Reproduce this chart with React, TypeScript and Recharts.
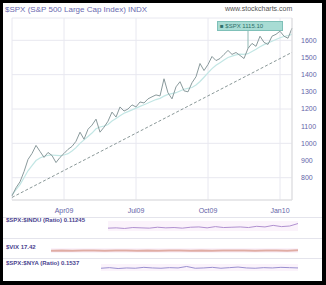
import { CartesianGrid, ComposedChart, Line, LineChart, ReferenceLine, XAxis, YAxis } from "recharts";

const TITLE = "$SPX (S&P 500 Large Cap Index) INDX";
const SITE = "www.stockcharts.com";
const LEGEND = "■ $SPX 1115.10";

// daily-ish closes, left to right
const PRICE = [
  694, 741, 776, 835, 906, 941, 988, 953, 918, 947, 929, 888, 918, 941, 965, 982, 1012, 1065,
  1024, 1082, 1106, 1141, 1065, 1094, 1129, 1182, 1153, 1212, 1188, 1200, 1224, 1212, 1241,
  1235, 1259, 1271, 1282, 1276, 1376, 1294, 1259, 1329, 1359, 1306, 1300, 1353, 1388, 1465,
  1424, 1459, 1506, 1482, 1494, 1518, 1541, 1518, 1529, 1512, 1494, 1553, 1582, 1565, 1624,
  1588, 1576, 1624, 1635, 1653, 1624, 1612, 1671,
];
const MA = [
  700, 730, 760, 800, 840, 870, 900, 915, 925, 930, 932, 930, 928, 932, 940, 955, 975, 1000,
  1020, 1040, 1060, 1085, 1095, 1100, 1110, 1130, 1145, 1160, 1175, 1185, 1195, 1205, 1215,
  1225, 1235, 1245, 1255, 1262, 1275, 1285, 1290, 1295, 1305, 1315, 1320, 1325, 1340, 1360,
  1385, 1410, 1435, 1455, 1470, 1485, 1500, 1508, 1515, 1520, 1518, 1522, 1535, 1548, 1562,
  1575, 1585, 1595, 1605, 1615, 1622, 1628, 1635,
];
const TREND_FROM = { i: 0, v: 685 };
const TREND_TO = { i: 70, v: 1530 };

const Y_TICKS = [800, 900, 1000, 1100, 1200, 1300, 1400, 1500, 1600];
const X_TICKS = [13, 31, 49, 67];
const X_LABELS = ["Apr09", "Jul09", "Oct09", "Jan10"];

const RATIO_LABEL = "$SPX:$INDU (Ratio) 0.11245";
const RATIO = [10.9, 11.0, 10.8, 11.1, 11.0, 10.9, 11.2, 11.0, 11.1, 10.9, 11.2, 11.3, 11.0, 11.4, 11.1, 11.2, 11.3, 11.1, 11.5, 11.3, 11.8, 11.4, 11.6, 12.4];
const VIX_LABEL = "$VIX 17.42";
const VIX = [20, 20.1, 20, 20.2, 20.1, 20, 20.1, 20.2, 20, 20.1, 20, 20.1, 20.2, 20, 20.1, 20, 20.1, 20.2, 20.1, 20, 20.1, 20.2, 20, 20.3];
const BREADTH_LABEL = "$SPX:$NYA (Ratio) 0.1537";
const BREADTH = [5.0, 5.2, 4.9, 5.1, 5.0, 5.3, 5.1, 5.0, 5.2, 5.1, 5.6, 5.0, 5.1, 5.3, 5.0, 5.2, 5.4, 5.1, 5.0, 5.2, 5.1, 5.3, 5.2, 5.1];

const main = PRICE.map((v, i) => ({ i, price: v, ma: MA[i] }));
const strip = (arr: number[]) => arr.map((v, i) => ({ i, v }));

const FONT = "'Liberation Sans', Arial, sans-serif";
const AXIS = { fill: "#6464a8", fontSize: 7, fontFamily: FONT };

function Strip({ top, left, label, data, color, width, height, thick = 1 }: { top: number; left: number; label: string; data: { i: number; v: number }[]; color: string; width: number; height: number; thick?: number }) {
  return (
    <>
      <div style={{ position: "absolute", top: top - 4, left: 3, fontSize: 6, fontWeight: "bold", color: "#4a3f8f", fontFamily: FONT, whiteSpace: "nowrap" }}>
        {label}
      </div>
      <div style={{ position: "absolute", top, left, background: "#fbf3fb" }}>
        <LineChart width={width} height={height} data={data} margin={{ top: 1, right: 0, left: 0, bottom: 1 }}>
          <YAxis hide domain={["dataMin - 0.5", "dataMax + 0.5"]} />
          <XAxis dataKey="i" hide />
          <Line dataKey="v" stroke={color} strokeWidth={thick} dot={false} isAnimationActive={false} />
        </LineChart>
      </div>
    </>
  );
}

export default function App() {
  return (
    <div style={{ position: "absolute", left: 0, top: 0, width: 326, height: 285, background: "#000" }}>
      <div style={{ position: "absolute", left: 3, top: 3, width: 319, height: 278, background: "#fff", overflow: "hidden" }}>
        <div style={{ position: "absolute", left: 2, top: 2, fontSize: 8, color: "#6a6ab0", fontFamily: FONT, whiteSpace: "nowrap" }}>{TITLE}</div>
        <div style={{ position: "absolute", left: 222, top: 2, fontSize: 7, color: "#555", fontFamily: FONT, whiteSpace: "nowrap" }}>{SITE}</div>
        <div style={{ position: "absolute", left: -3, top: -3 }}>
          <ComposedChart width={326} height={215} data={main} margin={{ top: 18, right: 0, left: 12, bottom: 0 }}>
            <CartesianGrid stroke="#e8e8f0" />
            <XAxis dataKey="i" type="number" domain={[0, 70]} ticks={X_TICKS} tickFormatter={(v) => X_LABELS[X_TICKS.indexOf(v)]} tick={AXIS} tickLine={false} axisLine={{ stroke: "#ddd" }} height={15} tickMargin={2} />
            <YAxis orientation="right" domain={[670, 1730]} ticks={Y_TICKS} tick={AXIS} tickLine={false} axisLine={{ stroke: "#ddd" }} width={34} tickMargin={3} />
            <ReferenceLine segment={[{ x: TREND_FROM.i, y: TREND_FROM.v }, { x: TREND_TO.i, y: TREND_TO.v }]} stroke="#8a9898" strokeDasharray="3 2" />
            <ReferenceLine segment={[{ x: 59, y: 1553 }, { x: 59, y: 1705 }]} stroke="#8fb8b4" />
            <Line dataKey="ma" stroke="#c2e6e4" strokeWidth={1.2} dot={false} isAnimationActive={false} />
            <Line dataKey="price" type="linear" stroke="#8a9a9c" strokeWidth={1} dot={false} isAnimationActive={false} />
          </ComposedChart>
        </div>
        <div style={{ position: "absolute", left: 214, top: 18, width: 62, height: 8, background: "#a8dcd4", border: "1px solid #7fc0b8", fontSize: 6, lineHeight: "8px", color: "#2f6f6a", fontFamily: FONT, whiteSpace: "nowrap", paddingLeft: 2 }}>
          {LEGEND}
        </div>
        <div style={{ position: "absolute", left: 0, top: 214, width: 319, borderTop: "1px solid #e4e4ec" }} />
        <div style={{ position: "absolute", left: 0, top: 235, width: 319, borderTop: "1px solid #e4e4ec" }} />
        <div style={{ position: "absolute", left: 0, top: 255, width: 319, borderTop: "1px solid #e4e4ec" }} />
        <Strip top={218} left={105} label={RATIO_LABEL} data={strip(RATIO)} color="#b090d0" width={190} height={10} />
        <Strip top={245} left={48} label={VIX_LABEL} data={strip(VIX)} color="#e0aca4" width={247} height={5} thick={2} />
        <Strip top={261} left={98} label={BREADTH_LABEL} data={strip(BREADTH)} color="#9a90d0" width={197} height={7} />
      </div>
    </div>
  );
}
